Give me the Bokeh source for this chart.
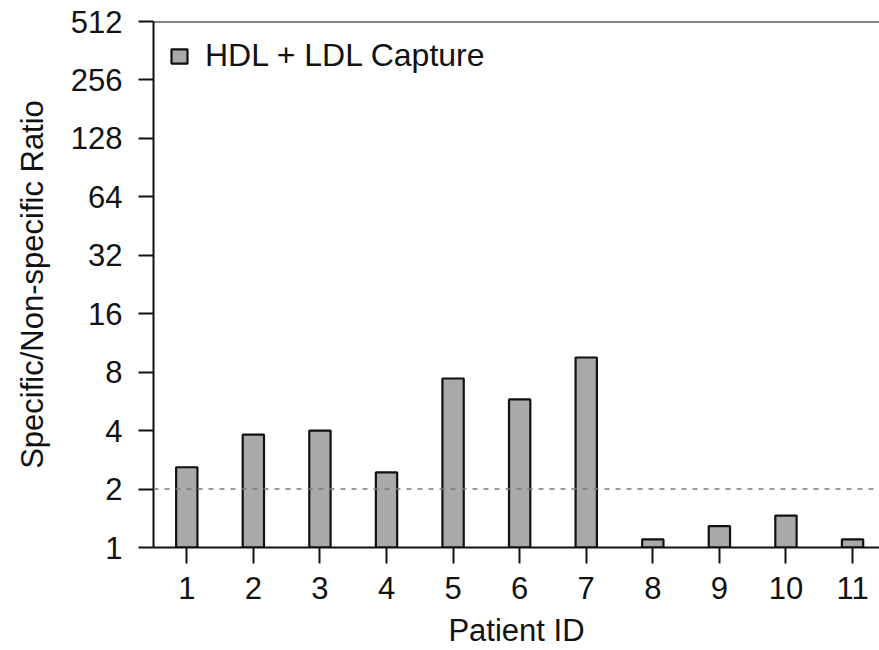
from bokeh.plotting import figure
from bokeh.models import (Range1d, FixedTicker, PrintfTickFormatter, Span,
                          Legend, LegendItem, ColumnDataSource)
from bokeh.embed import file_html
from bokeh.resources import INLINE

# ---- data ----
patients = [1, 2, 3, 4, 5, 6, 7, 8, 9, 10, 11]
ratios = [2.59, 3.81, 4.0, 2.44, 7.42, 5.79, 9.52, 1.10, 1.29, 1.46, 1.10]
y_ticks = [1, 2, 4, 8, 16, 32, 64, 128, 256, 512]
threshold = 2
series_name = "HDL + LDL Capture"
x_label = "Patient ID"
y_label = "Specific/Non-specific Ratio"

FONT = "Liberation Sans"
FS = "31px"

src = ColumnDataSource(dict(x=patients, top=ratios, bottom=[1] * len(patients)))

p = figure(width=879, height=650, y_axis_type="log",
           x_range=Range1d(0.5, 11.405), y_range=Range1d(1, 512),
           output_backend="svg", toolbar_location=None,
           min_border_left=153, min_border_top=21,
           min_border_right=0, min_border_bottom=103)
p.outline_line_color = None
p.background_fill_color = "white"
p.border_fill_color = "white"
p.xgrid.visible = False
p.ygrid.visible = False

r = p.vbar(x="x", top="top", bottom="bottom", width=0.32, source=src,
           fill_color="#a9a9a9", line_color="#111111", line_width=2.2)

# threshold line
p.add_layout(Span(location=threshold, dimension="width", line_color="#7a7a7a",
                  line_width=1.6, line_dash="5 6"))
# top border line
p.add_layout(Span(location=512, dimension="width", line_color="#111111",
                  line_width=2))

for ax in (p.xaxis[0], p.yaxis[0]):
    ax.axis_line_width = 2
    ax.axis_line_color = "#111111"
    ax.major_tick_line_width = 2
    ax.major_tick_line_color = "#111111"
    ax.major_tick_in = 0
    ax.minor_tick_line_color = None
    ax.major_label_text_font = FONT
    ax.major_label_text_font_size = FS
    ax.major_label_text_color = "#111111"
    ax.axis_label_text_font = FONT
    ax.axis_label_text_font_size = FS
    ax.axis_label_text_font_style = "normal"
    ax.axis_label_text_color = "#111111"

p.xaxis.ticker = FixedTicker(ticks=patients)
p.xaxis.major_tick_out = 16
p.xaxis.major_label_standoff = 13
p.xaxis.axis_label = x_label
p.xaxis.axis_label_standoff = 11

p.yaxis.ticker = FixedTicker(ticks=y_ticks)
p.yaxis.formatter = PrintfTickFormatter(format="%d")
p.yaxis.major_tick_out = 15
p.yaxis.major_label_standoff = 16
p.yaxis.axis_label = y_label
p.yaxis.axis_label_standoff = 18

legend = Legend(items=[LegendItem(label=series_name, renderers=[r])],
                location="top_left")
legend.label_text_font = FONT
legend.label_text_font_size = "32px"
legend.label_text_color = "#111111"
legend.glyph_width = 20
legend.glyph_height = 18
legend.label_standoff = 16
legend.margin = 16
legend.padding = 6
legend.border_line_color = None
legend.background_fill_alpha = 0
p.add_layout(legend)

open("out.html", "w").write(file_html(p, INLINE))
